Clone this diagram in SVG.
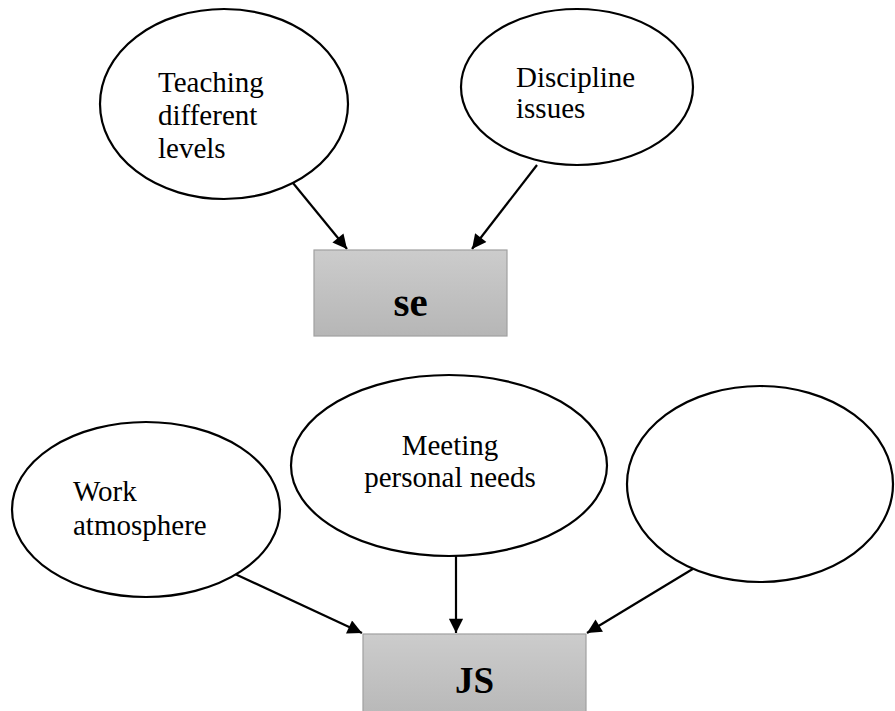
<svg xmlns="http://www.w3.org/2000/svg" width="895" height="711" viewBox="0 0 895 711">
  <style>
    .oval { fill: #ffffff; stroke: #000000; stroke-width: 2.2; }
    .box { fill: url(#boxFill); stroke: #a0a0a0; stroke-width: 1.2; }
    .label { font-family: "Liberation Serif", "Times New Roman", serif; font-size: 29px; fill: #000000; }
    .title { font-family: "Liberation Serif", "Times New Roman", serif; font-weight: bold; fill: #000000; text-anchor: middle; }
    .link { stroke: #000000; stroke-width: 2.2; fill: none; marker-end: url(#head); }
  </style>
  <defs>
    <linearGradient id="boxFill" x1="0" y1="0" x2="0" y2="1">
      <stop offset="0" stop-color="#cccccc"/>
      <stop offset="1" stop-color="#b6b6b6"/>
    </linearGradient>
    <marker id="head" viewBox="0 0 10 10" refX="10" refY="5" markerWidth="7" markerHeight="6.5" markerUnits="strokeWidth" orient="auto">
      <path d="M0,0 L10,5 L0,10 Z" fill="#000000"/>
    </marker>
  </defs>

  <rect width="895" height="711" fill="#ffffff"/>

  <!-- connectors -->
  <g id="connectors">
    <line class="link" x1="293" y1="183" x2="347" y2="249"/>
    <line class="link" x1="537" y1="165" x2="472" y2="249"/>
    <line class="link" x1="235" y1="574" x2="362" y2="633"/>
    <line class="link" x1="456" y1="556" x2="456" y2="633"/>
    <line class="link" x1="696" y1="567" x2="587" y2="633"/>
  </g>

  <!-- upper cluster -->
  <g id="teaching">
    <ellipse class="oval" cx="224" cy="104" rx="124" ry="95"/>
    <text class="label" x="158" y="92">Teaching</text>
    <text class="label" x="158" y="125">different</text>
    <text class="label" x="158" y="158">levels</text>
  </g>
  <g id="discipline">
    <ellipse class="oval" cx="577" cy="87" rx="116" ry="78"/>
    <text class="label" x="516" y="87">Discipline</text>
    <text class="label" x="516" y="118">issues</text>
  </g>
  <g id="se">
    <rect class="box" x="314" y="250" width="193" height="86"/>
    <text class="title" x="410.5" y="316" font-size="41">se</text>
  </g>

  <!-- lower cluster -->
  <g id="work">
    <ellipse class="oval" cx="146" cy="509.5" rx="134" ry="87.5"/>
    <text class="label" x="73" y="501">Work</text>
    <text class="label" x="73" y="535">atmosphere</text>
  </g>
  <g id="meeting">
    <ellipse class="oval" cx="449" cy="465.5" rx="158" ry="90.5"/>
    <text class="label" x="450" y="455" text-anchor="middle">Meeting</text>
    <text class="label" x="450" y="487" text-anchor="middle">personal needs</text>
  </g>
  <g id="blank">
    <ellipse class="oval" cx="760" cy="484" rx="133" ry="98"/>
  </g>
  <g id="js">
    <rect class="box" x="363" y="634" width="223" height="90"/>
    <text class="title" x="474.5" y="693" font-size="37">JS</text>
  </g>
</svg>
